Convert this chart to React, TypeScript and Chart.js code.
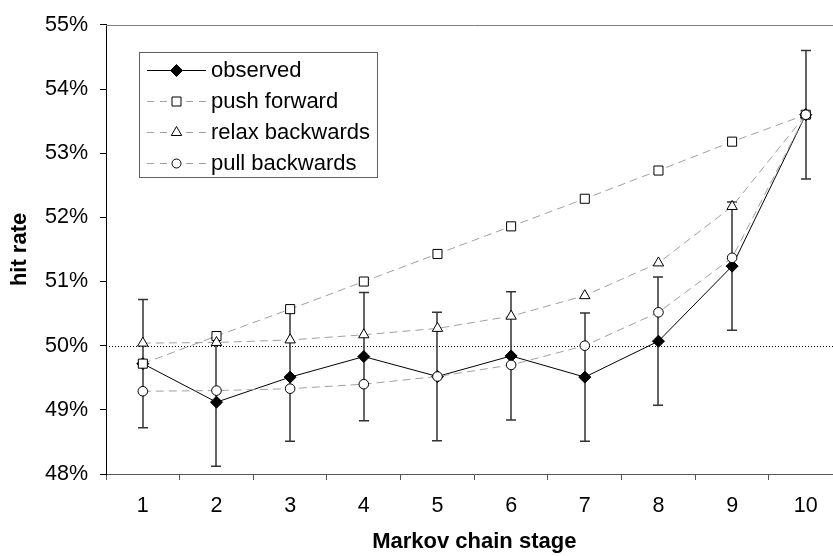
import React, { useEffect, useRef } from 'react';
import { Chart, registerables } from 'chart.js';

Chart.register(...registerables);

// ---- data ----
const stages = ['1', '2', '3', '4', '5', '6', '7', '8', '9', '10'];
const observed = [49.72, 49.12, 49.51, 49.83, 49.52, 49.84, 49.51, 50.07, 51.24, 53.6];
const observedError = [1, 1, 1, 1, 1, 1, 1, 1, 1, 1];
const pushForward = [49.72, 50.15, 50.57, 51.0, 51.43, 51.86, 52.29, 52.73, 53.18, 53.6];
const relaxBackwards = [50.04, 50.05, 50.09, 50.17, 50.27, 50.46, 50.78, 51.29, 52.17, 53.6];
const pullBackwards = [49.29, 49.3, 49.33, 49.4, 49.52, 49.7, 50.0, 50.52, 51.37, 53.6];
const yMin = 48;
const yMax = 55;
const referenceLevel = 50;
const seriesNames = ['observed', 'push forward', 'relax backwards', 'pull backwards'];

const FONT = '"Liberation Sans", Arial, sans-serif';
const DASH_GRAY = '#a0a0a0';

function drawMarker(ctx: CanvasRenderingContext2D, kind: string, x: number, y: number) {
  ctx.save();
  ctx.setLineDash([]);
  ctx.lineWidth = 1;
  ctx.strokeStyle = '#000';
  ctx.beginPath();
  if (kind === 'diamond') {
    const r = 6;
    ctx.moveTo(x, y - r);
    ctx.lineTo(x + r, y);
    ctx.lineTo(x, y + r);
    ctx.lineTo(x - r, y);
    ctx.closePath();
    ctx.fillStyle = '#000';
  } else if (kind === 'square') {
    const s = 4.5;
    ctx.rect(x - s, y - s, 2 * s, 2 * s);
    ctx.fillStyle = '#fff';
  } else if (kind === 'triangle') {
    const r = 6;
    ctx.moveTo(x, y - r);
    ctx.lineTo(x + r * 0.866, y + r / 2);
    ctx.lineTo(x - r * 0.866, y + r / 2);
    ctx.closePath();
    ctx.fillStyle = '#fff';
  } else {
    ctx.arc(x, y, 4.5, 0, Math.PI * 2);
    ctx.fillStyle = '#fff';
  }
  ctx.fill();
  ctx.stroke();
  ctx.restore();
}

const backgroundPlugin = {
  id: 'referenceAndErrors',
  beforeDatasetsDraw(chart: any) {
    const { ctx, chartArea, scales } = chart;
    const x = scales.x;
    const y = scales.y;
    ctx.save();
    // dotted 50% line
    const yr = Math.round(y.getPixelForValue(referenceLevel)) + 0.5;
    ctx.strokeStyle = '#000';
    ctx.lineWidth = 1;
    ctx.setLineDash([1, 2]);
    ctx.beginPath();
    ctx.moveTo(chartArea.left, yr);
    ctx.lineTo(chartArea.right, yr);
    ctx.stroke();
    ctx.setLineDash([]);
    // error bars
    ctx.strokeStyle = '#333';
    ctx.lineWidth = 1.5;
    observed.forEach((v, i) => {
      const px = Math.round(x.getPixelForValue(i));
      const top = y.getPixelForValue(v + observedError[i]);
      const bot = y.getPixelForValue(v - observedError[i]);
      ctx.beginPath();
      ctx.moveTo(px, top);
      ctx.lineTo(px, bot);
      ctx.moveTo(px - 5, top);
      ctx.lineTo(px + 5, top);
      ctx.moveTo(px - 5, bot);
      ctx.lineTo(px + 5, bot);
      ctx.stroke();
    });
    ctx.restore();
  },
  afterDraw(chart: any) {
    const { ctx, chartArea } = chart;
    ctx.save();
    // top frame line
    ctx.strokeStyle = '#808080';
    ctx.lineWidth = 1;
    ctx.beginPath();
    ctx.moveTo(chartArea.left, Math.round(chartArea.top) + 0.5);
    ctx.lineTo(chartArea.right, Math.round(chartArea.top) + 0.5);
    ctx.stroke();
    ctx.beginPath();
    ctx.moveTo(Math.round(chartArea.right) + 0.5, chartArea.top);
    ctx.lineTo(Math.round(chartArea.right) + 0.5, chartArea.bottom);
    ctx.stroke();

    // legend box
    const bx = 139.5, by = 52.5, bw = 238, bh = 125;
    ctx.fillStyle = '#fff';
    ctx.fillRect(bx, by, bw, bh);
    ctx.strokeStyle = '#606060';
    ctx.strokeRect(bx, by, bw, bh);
    const kinds = ['diamond', 'square', 'triangle', 'circle'];
    const rowY = [70, 101, 132, 163];
    ctx.font = `22px ${FONT}`;
    ctx.textBaseline = 'middle';
    ctx.textAlign = 'left';
    seriesNames.forEach((name, i) => {
      const ly = rowY[i] + 0.5;
      ctx.beginPath();
      if (i === 0) {
        ctx.strokeStyle = '#000';
        ctx.setLineDash([]);
      } else {
        ctx.strokeStyle = DASH_GRAY;
        ctx.setLineDash([7, 6]);
      }
      ctx.moveTo(147, ly);
      ctx.lineTo(206, ly);
      ctx.stroke();
      ctx.setLineDash([]);
      drawMarker(ctx, kinds[i], 176.5, ly);
      ctx.fillStyle = '#000';
      ctx.fillText(name, 211, rowY[i] + 1);
    });
    ctx.restore();
  },
};

export default function App() {
  const canvasRef = useRef<HTMLCanvasElement | null>(null);

  useEffect(() => {
    if (!canvasRef.current) return;
    const dashed = {
      borderColor: DASH_GRAY,
      borderWidth: 1,
      borderDash: [8, 5],
      pointBorderColor: '#000',
      pointBackgroundColor: '#fff',
      pointBorderWidth: 1,
      fill: false,
      tension: 0,
    };
    const chart = new Chart(canvasRef.current, {
      type: 'line',
      data: {
        labels: stages,
        datasets: [
          {
            label: seriesNames[0],
            data: observed,
            borderColor: '#000',
            borderWidth: 1,
            pointStyle: 'rectRot',
            pointRadius: 6,
            pointBackgroundColor: '#000',
            pointBorderColor: '#000',
            pointBorderWidth: 1,
            fill: false,
            tension: 0,
            order: 4,
          },
          { label: seriesNames[1], data: pushForward, ...dashed, pointStyle: 'rect', pointRadius: 6.4, order: 3 },
          { label: seriesNames[2], data: relaxBackwards, ...dashed, pointStyle: 'triangle', pointRadius: 6, order: 2 },
          { label: seriesNames[3], data: pullBackwards, ...dashed, pointStyle: 'circle', pointRadius: 4.8, order: 1 },
        ],
      },
      options: {
        animation: false,
        responsive: false,
        devicePixelRatio: 1,
        layout: { padding: { left: 0, top: 17, right: 4, bottom: 0 } },
        plugins: {
          legend: { display: false },
          tooltip: { enabled: false },
        },
        scales: {
          x: {
            type: 'category',
            offset: true,
            grid: {
              display: true,
              offset: true,
              drawOnChartArea: false,
              drawTicks: true,
              tickLength: 6,
              color: '#555',
            },
            border: { display: true, color: '#555', width: 1 },
            ticks: {
              color: '#000',
              padding: 13,
              maxRotation: 0,
              font: { family: FONT, size: 21.5 },
            },
            title: {
              display: true,
              text: 'Markov chain stage',
              color: '#000',
              padding: { top: 0, bottom: 1 },
              font: { family: FONT, size: 22, weight: 'bold' },
            },
            afterFit: (scale: any) => {
              scale.height = 82;
            },
          },
          y: {
            min: yMin,
            max: yMax,
            grid: {
              display: true,
              drawOnChartArea: false,
              drawTicks: true,
              tickLength: 6,
              color: '#000',
            },
            border: { display: true, color: '#000', width: 1 },
            ticks: {
              stepSize: 1,
              color: '#000',
              padding: 12,
              font: { family: FONT, size: 21.5 },
              callback: (v: any) => `${v}%`,
            },
            title: {
              display: true,
              text: 'hit rate',
              color: '#000',
              padding: { top: 7, bottom: 0 },
              font: { family: FONT, size: 22, weight: 'bold' },
            },
            afterFit: (scale: any) => {
              scale.width = 106;
            },
          },
        },
      },
      plugins: [backgroundPlugin],
    });
    return () => chart.destroy();
  }, []);

  return (
    <div
      style={{
        position: 'absolute',
        left: 0,
        top: 0,
        width: 833,
        height: 556,
        overflow: 'hidden',
        background: '#fff',
      }}
    >
      <canvas ref={canvasRef} width={850} height={556} style={{ display: 'block', width: 850, height: 556 }} />
    </div>
  );
}
